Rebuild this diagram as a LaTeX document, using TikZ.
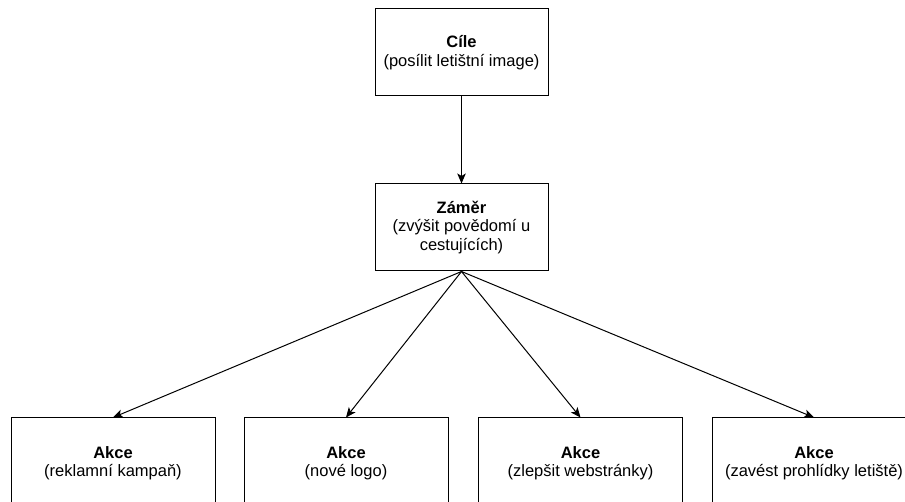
\documentclass[tikz,border=0pt]{standalone}
\usepackage{fontspec}
\setmainfont{Liberation Sans}
\usetikzlibrary{arrows.meta}
\begin{document}
\begin{tikzpicture}[x=1pt,y=-1pt,
  box/.style={draw=black, line width=1pt, fill=white, minimum width=173pt,
    minimum height=87pt, align=center, inner sep=2pt,
    font=\fontsize{16.5}{18.5}\selectfont},
  actbox/.style={box, minimum width=204pt, minimum height=90pt},
  link/.style={draw=black, line width=1pt, -{Stealth[length=10pt,width=8.5pt,inset=2.5pt]}}]
\useasboundingbox (0,0) rectangle (905,502);
\clip (0,0) rectangle (905,502);

% goal and intent
\node[box] (goal) at (461.5,52.5) {\textbf{Cíle}\\(posílit letištní image)};
\node[box] (aim) at (461.5,227.5) {\textbf{Záměr}\\(zvýšit povědomí u\\cestujících)};

% actions
\node[actbox] (act1) at (113,463) {\textbf{Akce}\\(reklamní kampaň)};
\node[actbox] (act2) at (346,463) {\textbf{Akce}\\(nové logo)};
\node[actbox] (act3) at (580.5,463) {\textbf{Akce}\\(zlepšit webstránky)};
\node[actbox] (act4) at (814,463) {\textbf{Akce}\\(zavést prohlídky letiště)};

% connectors
\draw[link] (goal.south) -- (aim.north);
\draw[link] (aim.south) -- (act1.north);
\draw[link] (aim.south) -- (act2.north);
\draw[link] (aim.south) -- (act3.north);
\draw[link] (aim.south) -- (act4.north);
\end{tikzpicture}
\end{document}
